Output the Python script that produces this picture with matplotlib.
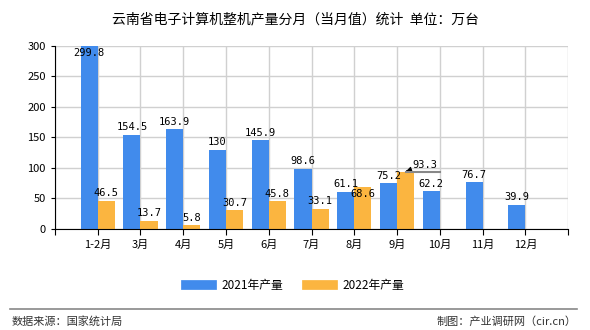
import numpy as np
import matplotlib.pyplot as plt
from matplotlib.lines import Line2D

plt.rcParams['font.family'] = ['Noto Sans CJK SC', 'DejaVu Sans']

# figure data
months = ["1-2月", "3月", "4月", "5月", "6月", "7月", "8月", "9月", "10月", "11月", "12月"]
prod_2021 = [299.8, 154.5, 163.9, 130, 145.9, 98.6, 61.1, 75.2, 62.2, 76.7, 39.9]
prod_2022 = [46.5, 13.7, 5.8, 30.7, 45.8, 33.1, 68.6, 93.3]
series_names = ["2021年产量", "2022年产量"]

blue = '#418BEC'
orange = '#FBB540'

# figure making
fig = plt.figure(figsize=(5.9, 3.3), dpi=100)
ax = fig.add_axes([0.093, 0.306, 0.870, 0.555])

x = np.arange(len(months))
w = 0.4
ax.bar(x - w / 2, prod_2021, width=w, color=blue, zorder=2)
ax.bar(x[:len(prod_2022)] + w / 2, prod_2022, width=w, color=orange, zorder=2)

ax.set_xlim(-1, len(months))
ax.set_ylim(0, 300)
ax.set_yticks(np.arange(0, 301, 50))
ax.set_xticks(np.arange(-1, len(months) + 1))
ax.set_xticklabels([''] + months + [''], fontsize=8)
ax.tick_params(axis='y', labelsize=8, length=3)
ax.tick_params(axis='x', length=4)
ax.grid(True, color='#d0d0d0', linewidth=1, zorder=0)
for s in ['top', 'right']:
    ax.spines[s].set_visible(False)
ax.spines['left'].set_color('black')
ax.spines['bottom'].set_color('black')

mono = 'DejaVu Sans Mono'
for i, v in enumerate(prod_2021):
    y = v + 4
    if v > 290:
        y = 280
    ax.text(x[i] - w / 2, y, f"{v:g}", ha='center', va='bottom',
            fontsize=7.5, family=mono, zorder=3)
for i, v in enumerate(prod_2022):
    if i == 7:
        continue
    if i == 6:
        # sits just under the bar top, as in the source
        ax.text(x[i] + w / 2, v - 3, f"{v:g}", ha='center', va='top',
                fontsize=7.5, family=mono, zorder=3)
        continue
    ax.text(x[i] + w / 2, v + 4, f"{v:g}", ha='center', va='bottom',
            fontsize=7.5, family=mono, zorder=3)
# leader for the last 2022 value
ax.annotate(f"{prod_2022[7]:g}", xy=(x[7] + w / 2 - 0.05, prod_2022[7]),
            xytext=(x[7] + 0.65, prod_2022[7] + 4), ha='center', va='bottom',
            fontsize=7.5, family=mono, zorder=3,
            arrowprops=dict(arrowstyle='-|>', color='black', lw=0.8))
ax.plot([x[7] + w / 2, x[8]], [prod_2022[7], prod_2022[7]], color='#888888', lw=1.5, zorder=3)

handles = [Line2D([], [], color=blue, lw=7), Line2D([], [], color=orange, lw=7)]
fig.legend(handles, series_names, loc='center', bbox_to_anchor=(0.5, 0.135), ncol=2,
           frameon=False, fontsize=8.5, handlelength=2.2, columnspacing=2.0)

fig.text(0.5, 0.94, "云南省电子计算机整机产量分月（当月值）统计  单位：万台",
         ha='center', va='center', fontsize=10)
fig.add_artist(Line2D([0.017, 0.978], [0.063, 0.063], color='#888888', lw=1.2))
fig.text(0.02, 0.025, "数据来源：国家统计局", ha='left', va='center', fontsize=8, color='#333333')
fig.text(0.978, 0.025, "制图：产业调研网（cir.cn）", ha='right', va='center', fontsize=8, color='#333333')

plt.savefig('out.png', dpi=100)
